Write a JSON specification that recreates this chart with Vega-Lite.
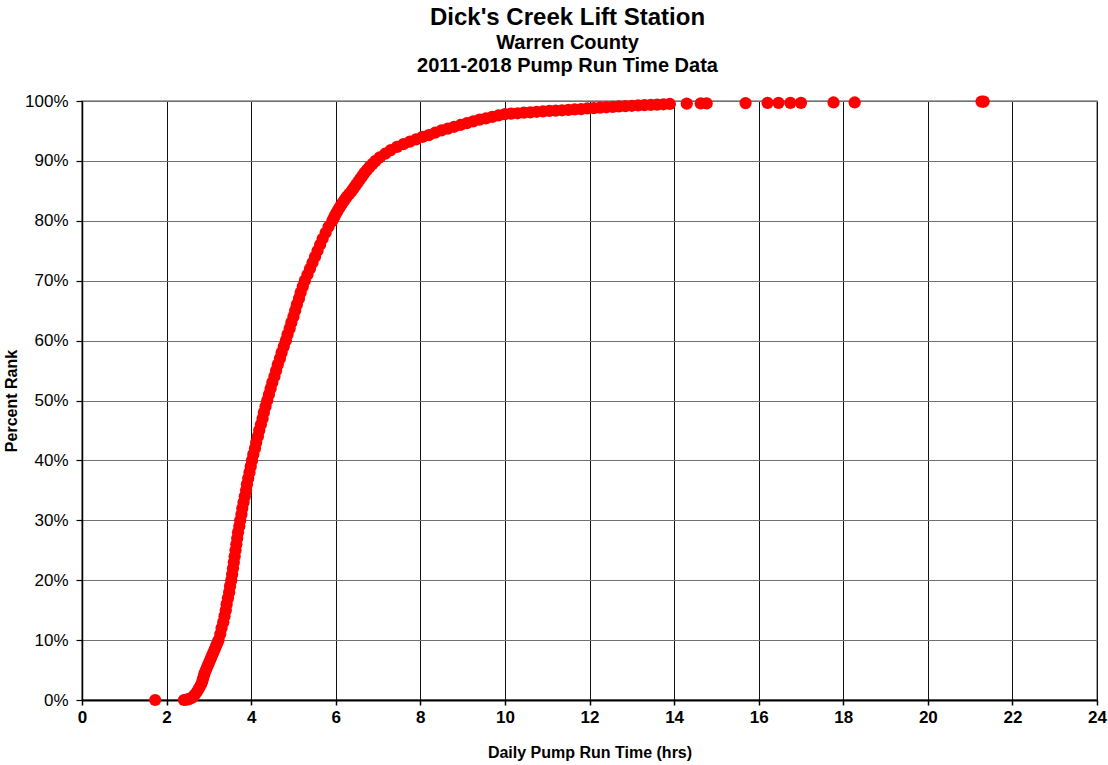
{
  "$schema": "https://vega.github.io/schema/vega-lite/v6.json",
  "autosize": {"type": "none"},
  "width": 1015,
  "height": 599,
  "padding": {"left": 82, "top": 101, "right": 11, "bottom": 65},
  "background": "white",
  "title": {
    "text": "Dick's Creek Lift Station",
    "subtitle": ["Warren County", "2011-2018 Pump Run Time Data"],
    "anchor": "middle",
    "dx": -22,
    "offset": 16,
    "font": "Liberation Sans",
    "fontSize": 24,
    "fontWeight": "bold",
    "color": "#000000",
    "subtitleFont": "Liberation Sans",
    "subtitleFontSize": 20,
    "subtitleFontWeight": "bold",
    "subtitleColor": "#000000",
    "subtitleLineHeight": 23,
    "subtitlePadding": 3
  },
  "config": {
    "view": {"stroke": "#888888", "strokeWidth": 1.5},
    "axis": {
      "labelFont": "Liberation Sans",
      "titleFont": "Liberation Sans",
      "labelColor": "#000000",
      "titleColor": "#000000",
      "domainColor": "#000000",
      "tickColor": "#000000"
    }
  },
  "data": {
    "values": [
      {"x": 1.73, "p": 0},
      {"x": 2.41, "p": 0},
      {"x": 2.47, "p": 0.05},
      {"x": 2.53, "p": 0.15},
      {"x": 2.59, "p": 0.35},
      {"x": 2.64, "p": 0.65},
      {"x": 2.68, "p": 1},
      {"x": 2.73, "p": 1.5},
      {"x": 2.77, "p": 2},
      {"x": 2.81, "p": 2.5},
      {"x": 2.84, "p": 3},
      {"x": 2.86, "p": 3.5},
      {"x": 2.88, "p": 4},
      {"x": 2.90, "p": 4.5},
      {"x": 2.93, "p": 5},
      {"x": 2.96, "p": 5.5},
      {"x": 2.99, "p": 6},
      {"x": 3.02, "p": 6.5},
      {"x": 3.05, "p": 7},
      {"x": 3.08, "p": 7.5},
      {"x": 3.11, "p": 8},
      {"x": 3.14, "p": 8.5},
      {"x": 3.17, "p": 9},
      {"x": 3.20, "p": 9.5},
      {"x": 3.23, "p": 10},
      {"x": 3.27, "p": 11},
      {"x": 3.30, "p": 12},
      {"x": 3.34, "p": 13},
      {"x": 3.37, "p": 14},
      {"x": 3.40, "p": 15},
      {"x": 3.42, "p": 16},
      {"x": 3.45, "p": 17},
      {"x": 3.48, "p": 18},
      {"x": 3.50, "p": 19},
      {"x": 3.53, "p": 20},
      {"x": 3.55, "p": 21},
      {"x": 3.57, "p": 22},
      {"x": 3.59, "p": 23},
      {"x": 3.61, "p": 24},
      {"x": 3.63, "p": 25},
      {"x": 3.65, "p": 26},
      {"x": 3.67, "p": 27},
      {"x": 3.69, "p": 28},
      {"x": 3.72, "p": 29},
      {"x": 3.74, "p": 30},
      {"x": 3.77, "p": 31},
      {"x": 3.79, "p": 32},
      {"x": 3.82, "p": 33},
      {"x": 3.85, "p": 34},
      {"x": 3.88, "p": 35},
      {"x": 3.90, "p": 36},
      {"x": 3.93, "p": 37},
      {"x": 3.96, "p": 38},
      {"x": 3.99, "p": 39},
      {"x": 4.02, "p": 40},
      {"x": 4.05, "p": 41},
      {"x": 4.09, "p": 42},
      {"x": 4.12, "p": 43},
      {"x": 4.16, "p": 44},
      {"x": 4.19, "p": 45},
      {"x": 4.23, "p": 46},
      {"x": 4.27, "p": 47},
      {"x": 4.30, "p": 48},
      {"x": 4.34, "p": 49},
      {"x": 4.38, "p": 50},
      {"x": 4.42, "p": 51},
      {"x": 4.46, "p": 52},
      {"x": 4.50, "p": 53},
      {"x": 4.55, "p": 54},
      {"x": 4.59, "p": 55},
      {"x": 4.63, "p": 56},
      {"x": 4.68, "p": 57},
      {"x": 4.72, "p": 58},
      {"x": 4.77, "p": 59},
      {"x": 4.82, "p": 60},
      {"x": 4.86, "p": 61},
      {"x": 4.91, "p": 62},
      {"x": 4.95, "p": 63},
      {"x": 5.00, "p": 64},
      {"x": 5.04, "p": 65},
      {"x": 5.08, "p": 66},
      {"x": 5.13, "p": 67},
      {"x": 5.17, "p": 68},
      {"x": 5.22, "p": 69},
      {"x": 5.27, "p": 70},
      {"x": 5.33, "p": 71},
      {"x": 5.39, "p": 72},
      {"x": 5.45, "p": 73},
      {"x": 5.51, "p": 74},
      {"x": 5.57, "p": 75},
      {"x": 5.63, "p": 76},
      {"x": 5.69, "p": 77},
      {"x": 5.76, "p": 78},
      {"x": 5.83, "p": 79},
      {"x": 5.92, "p": 80},
      {"x": 5.955, "p": 80.5},
      {"x": 5.99, "p": 81},
      {"x": 6.03, "p": 81.5},
      {"x": 6.07, "p": 82},
      {"x": 6.115, "p": 82.5},
      {"x": 6.16, "p": 83},
      {"x": 6.21, "p": 83.5},
      {"x": 6.26, "p": 84},
      {"x": 6.32, "p": 84.5},
      {"x": 6.38, "p": 85},
      {"x": 6.43, "p": 85.5},
      {"x": 6.48, "p": 86},
      {"x": 6.53, "p": 86.5},
      {"x": 6.58, "p": 87},
      {"x": 6.63, "p": 87.5},
      {"x": 6.68, "p": 88},
      {"x": 6.74, "p": 88.5},
      {"x": 6.80, "p": 89},
      {"x": 6.87, "p": 89.5},
      {"x": 6.94, "p": 90},
      {"x": 7.04, "p": 90.6},
      {"x": 7.17, "p": 91.2},
      {"x": 7.30, "p": 91.8},
      {"x": 7.45, "p": 92.35},
      {"x": 7.60, "p": 92.8},
      {"x": 7.75, "p": 93.2},
      {"x": 7.90, "p": 93.6},
      {"x": 8.05, "p": 94.0},
      {"x": 8.20, "p": 94.3},
      {"x": 8.35, "p": 94.7},
      {"x": 8.50, "p": 95.1},
      {"x": 8.65, "p": 95.4},
      {"x": 8.80, "p": 95.7},
      {"x": 8.95, "p": 96.0},
      {"x": 9.10, "p": 96.3},
      {"x": 9.25, "p": 96.6},
      {"x": 9.40, "p": 96.9},
      {"x": 9.55, "p": 97.1},
      {"x": 9.70, "p": 97.35},
      {"x": 9.85, "p": 97.6},
      {"x": 10.00, "p": 97.8},
      {"x": 10.15, "p": 97.9},
      {"x": 10.30, "p": 97.95},
      {"x": 10.45, "p": 98.05},
      {"x": 10.60, "p": 98.1},
      {"x": 10.75, "p": 98.2},
      {"x": 10.90, "p": 98.25},
      {"x": 11.05, "p": 98.35},
      {"x": 11.20, "p": 98.4},
      {"x": 11.35, "p": 98.45},
      {"x": 11.50, "p": 98.5},
      {"x": 11.65, "p": 98.6},
      {"x": 11.80, "p": 98.65},
      {"x": 11.95, "p": 98.75},
      {"x": 12.10, "p": 98.8},
      {"x": 12.25, "p": 98.9},
      {"x": 12.40, "p": 98.95},
      {"x": 12.55, "p": 99.0},
      {"x": 12.70, "p": 99.1},
      {"x": 12.85, "p": 99.15},
      {"x": 13.00, "p": 99.2},
      {"x": 13.15, "p": 99.25},
      {"x": 13.30, "p": 99.3},
      {"x": 13.45, "p": 99.35},
      {"x": 13.60, "p": 99.4},
      {"x": 13.75, "p": 99.45},
      {"x": 13.90, "p": 99.5},
      {"x": 14.30, "p": 99.55},
      {"x": 14.63, "p": 99.6},
      {"x": 14.77, "p": 99.6},
      {"x": 15.69, "p": 99.65},
      {"x": 16.21, "p": 99.7},
      {"x": 16.47, "p": 99.7},
      {"x": 16.75, "p": 99.7},
      {"x": 17.00, "p": 99.7},
      {"x": 17.77, "p": 99.75},
      {"x": 18.27, "p": 99.75},
      {"x": 21.27, "p": 99.9},
      {"x": 21.32, "p": 99.9}
    ]
  },
  "mark": {"type": "point", "shape": "circle", "filled": true, "color": "#FF0000", "opacity": 1, "size": 150, "clip": false},
  "encoding": {
    "x": {
      "field": "x",
      "type": "quantitative",
      "scale": {"domain": [0, 24], "nice": false, "zero": true},
      "axis": {
        "title": "Daily Pump Run Time (hrs)",
        "values": [0, 2, 4, 6, 8, 10, 12, 14, 16, 18, 20, 22, 24],
        "format": "d",
        "grid": true,
        "gridColor": "#111111",
        "gridWidth": 1,
        "domainWidth": 2,
        "tickSize": 5,
        "tickWidth": 1.5,
        "labelFontSize": 17,
        "labelFontWeight": "bold",
        "labelPadding": 4,
        "labelFlush": false,
        "titleFontSize": 16,
        "titleFontWeight": "bold",
        "titlePadding": 19
      }
    },
    "y": {
      "field": "p",
      "type": "quantitative",
      "scale": {"domain": [0, 100], "nice": false},
      "axis": {
        "title": "Percent Rank",
        "values": [0, 10, 20, 30, 40, 50, 60, 70, 80, 90, 100],
        "labelExpr": "datum.value + '%'",
        "grid": true,
        "gridColor": "#707070",
        "gridWidth": 1,
        "domainWidth": 1.5,
        "tickSize": 6,
        "tickWidth": 1.2,
        "labelFontSize": 17,
        "labelFontWeight": "normal",
        "labelPadding": 8,
        "labelFlush": false,
        "titleFontSize": 16,
        "titleFontWeight": "bold",
        "titlePadding": 5
      }
    }
  }
}
